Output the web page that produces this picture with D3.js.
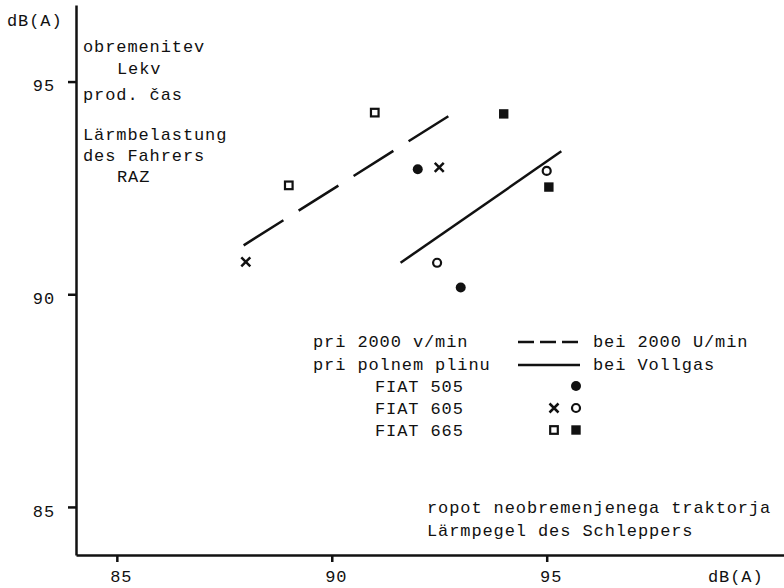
<!DOCTYPE html>
<html>
<head>
<meta charset="utf-8">
<script src="https://cdn.jsdelivr.net/npm/d3@7"></script>
<style>
	body { margin: 0; background: #fff; }
	svg text { font-family: "Liberation Mono", "DejaVu Sans Mono", monospace; font-size: 17px; letter-spacing: 0.9px; fill: #111; }
</style>
</head>
<body>
<div id="chart"></div>
<script>

// noise of the unloaded tractor (x) vs. driver noise load (y), dB(A)
var xTicks = [85, 90, 95];
var yTicks = [85, 90, 95];

// FIAT 505
var fiat505Rpm = [[92, 92.94]];          // filled circle
var fiat505Full = [[93, 90.16]];
// FIAT 605
var fiat605Rpm = [[88, 90.76], [92.5, 92.98]];   // cross
var fiat605Full = [[92.45, 90.74], [95, 92.9]];  // open circle
// FIAT 665
var fiat665Rpm = [[89, 92.56], [91, 94.27]];     // open square
var fiat665Full = [[94, 94.24], [95.05, 92.52]]; // filled square

// regression lines
var lineRpm = [[87.95, 91.15], [92.72, 94.19]];
var lineFull = [[91.6, 90.74], [95.34, 93.36]];

var leftText = ["obremenitev", "Lekv", "prod. čas", "Lärmbelastung", "des Fahrers", "RAZ"];
var legendLeft = ["pri 2000 v/min", "pri polnem plinu", "FIAT 505", "FIAT 605", "FIAT 665"];
var legendRight = ["bei 2000 U/min", "bei Vollgas"];
var xTitle = ["ropot neobremenjenega traktorja", "Lärmpegel des Schleppers"];

var width = 784, height = 588;

var svg = d3.select("#chart")
	.append("svg")
	.attr("width", width)
	.attr("height", height);

var x = d3.scaleLinear().domain([84.05, 100.52]).range([76, 784]);
var y = d3.scaleLinear().domain([83.87, 96.8]).range([555, 5]);

var ink = "#111";

// axes
var xAxis = svg.append("g")
	.attr("transform", "translate(0," + y(83.87) + ")")
	.call(d3.axisBottom(x).tickValues(xTicks).tickSize(7).tickSizeOuter(0));

var yAxis = svg.append("g")
	.attr("transform", "translate(" + x(84.05) + ",0)")
	.call(d3.axisLeft(y).tickValues(yTicks).tickSize(8).tickSizeOuter(0).tickPadding(13));

[xAxis, yAxis].forEach(function(a) {
	a.select(".domain").attr("stroke", ink).attr("stroke-width", 2.5);
	a.selectAll(".tick line").attr("stroke", ink).attr("stroke-width", 2.5);
	a.selectAll(".tick text").attr("fill", ink).style("font-size", "17px").attr("font-family", null);
});
xAxis.selectAll(".tick text").attr("x", 4).attr("y", 27).attr("dy", null);
yAxis.selectAll(".tick text").attr("dy", "0.55em");

svg.append("text").attr("x", 7).attr("y", 26).text("dB(A)");
svg.append("text").attr("x", 708).attr("y", 582).text("dB(A)");

// left annotation
var leftPos = [[83, 52], [117, 74], [83, 100], [83, 140], [83, 161], [117, 182]];
svg.selectAll(".lefttext")
	.data(leftText)
	.enter().append("text")
	.attr("class", "lefttext")
	.attr("x", function(d, i) { return leftPos[i][0]; })
	.attr("y", function(d, i) { return leftPos[i][1]; })
	.text(function(d) { return d; });

// x title
svg.selectAll(".xtitle")
	.data(xTitle)
	.enter().append("text")
	.attr("class", "xtitle")
	.attr("x", 427)
	.attr("y", function(d, i) { return 513 + i * 23; })
	.text(function(d) { return d; });

// regression lines
var line = d3.line().x(function(d) { return x(d[0]); }).y(function(d) { return y(d[1]); });

svg.append("path")
	.datum(lineRpm)
	.attr("d", line)
	.attr("fill", "none")
	.attr("stroke", ink)
	.attr("stroke-width", 2.5)
	.attr("stroke-dasharray", "47,18");

svg.append("path")
	.datum(lineFull)
	.attr("d", line)
	.attr("fill", "none")
	.attr("stroke", ink)
	.attr("stroke-width", 2.5);

// marker drawing
function marker(g, type) {
	if(type == "dot") {
		g.append("circle").attr("r", 5).attr("fill", ink);
	} else if(type == "ring") {
		g.append("circle").attr("r", 4).attr("fill", "none").attr("stroke", ink).attr("stroke-width", 2.2);
	} else if(type == "cross") {
		g.append("path").attr("d", "M-4.5,-4.5L4.5,4.5M-4.5,4.5L4.5,-4.5")
			.attr("stroke", ink).attr("stroke-width", 2.5).attr("fill", "none");
	} else if(type == "box") {
		g.append("rect").attr("x", -3.8).attr("y", -3.8).attr("width", 7.6).attr("height", 7.6)
			.attr("fill", "none").attr("stroke", ink).attr("stroke-width", 2.2);
	} else if(type == "fbox") {
		g.append("rect").attr("x", -4.7).attr("y", -4.7).attr("width", 9.4).attr("height", 9.4)
			.attr("fill", ink);
	}
}

function drawPoints(data, type) {
	svg.selectAll(null)
		.data(data)
		.enter().append("g")
		.attr("transform", function(d) { return "translate(" + x(d[0]) + "," + y(d[1]) + ")"; })
		.each(function() { marker(d3.select(this), type); });
}

drawPoints(fiat505Rpm, "dot");
drawPoints(fiat505Full, "dot");
drawPoints(fiat605Rpm, "cross");
drawPoints(fiat605Full, "ring");
drawPoints(fiat665Rpm, "box");
drawPoints(fiat665Full, "fbox");

// legend
var rowY = [347, 370, 392, 414, 436];
var legendX = [313, 313, 375, 375, 375];

svg.selectAll(".legleft")
	.data(legendLeft)
	.enter().append("text")
	.attr("class", "legleft")
	.attr("x", function(d, i) { return legendX[i]; })
	.attr("y", function(d, i) { return rowY[i]; })
	.text(function(d) { return d; });

svg.selectAll(".legright")
	.data(legendRight)
	.enter().append("text")
	.attr("class", "legright")
	.attr("x", 593)
	.attr("y", function(d, i) { return rowY[i]; })
	.text(function(d) { return d; });

svg.append("line")
	.attr("x1", 518).attr("x2", 580).attr("y1", rowY[0] - 5).attr("y2", rowY[0] - 5)
	.attr("stroke", ink).attr("stroke-width", 2.5).attr("stroke-dasharray", "16,6");
svg.append("line")
	.attr("x1", 518).attr("x2", 580).attr("y1", rowY[1] - 5).attr("y2", rowY[1] - 5)
	.attr("stroke", ink).attr("stroke-width", 2.5);

var legendMarks = [[2, 576, "dot"], [3, 554, "cross"], [3, 576, "ring"], [4, 554, "box"], [4, 576, "fbox"]];
legendMarks.forEach(function(m) {
	var g = svg.append("g").attr("transform", "translate(" + m[1] + "," + (rowY[m[0]] - 6) + ")");
	marker(g, m[2]);
});

</script>
</body>
</html>
